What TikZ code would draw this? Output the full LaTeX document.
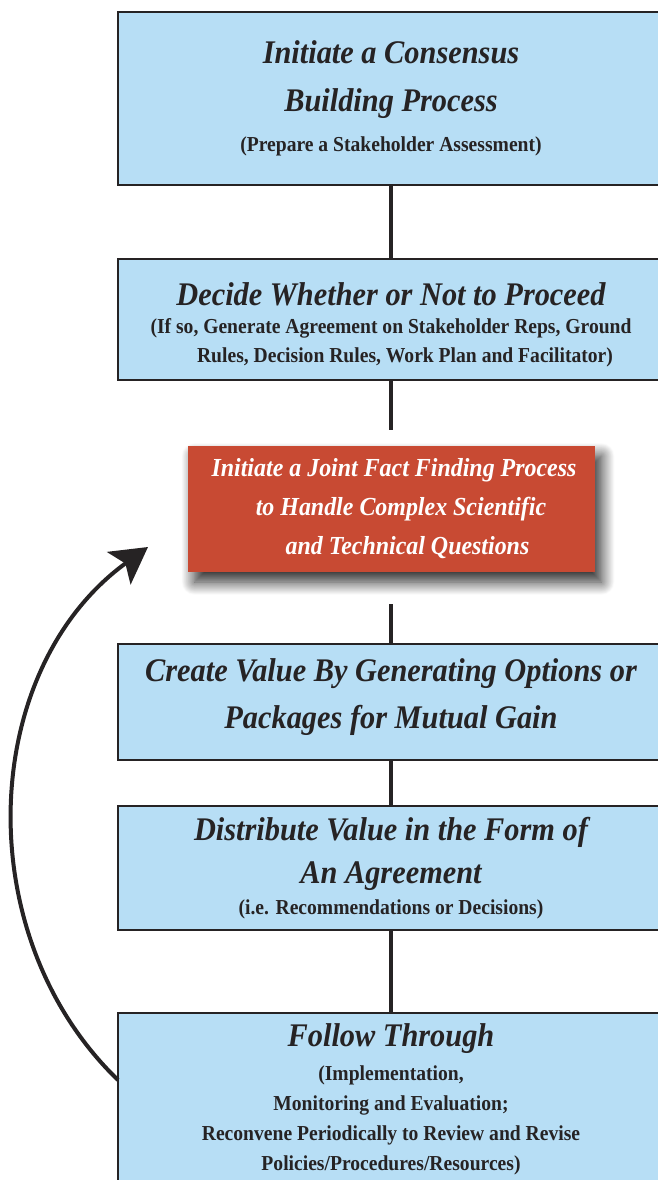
\documentclass[tikz,border=0pt]{standalone}
\usepackage{fontspec}
\newfontfamily\stepfont[FakeStretch=0.92]{Liberation Serif}
\usetikzlibrary{arrows.meta,shadows.blur}
\definecolor{boxblue}{RGB}{183,222,245}
\definecolor{factred}{RGB}{200,74,51}
\definecolor{inkgray}{RGB}{38,35,36}
\newcommand{\headline}{\fontsize{33}{40}\selectfont\bfseries\itshape}
\tikzset{
	stagebox/.style={draw=inkgray, line width=2pt, fill=boxblue, text=inkgray, minimum width=546pt, inner sep=0pt, align=center, font=\stepfont\bfseries\fontsize{21.3}{30}\selectfont},
	factbox/.style={fill=factred, text=white, minimum width=407pt, minimum height=126pt, inner sep=0pt, align=center, font=\stepfont\bfseries\itshape\fontsize{26}{39}\selectfont, blur shadow={shadow xshift=7pt, shadow yshift=-10pt, shadow blur radius=13pt, shadow blur steps=20, shadow opacity=85}},
	link/.style={draw=inkgray, line width=3.5pt},
	backarrow/.style={draw=inkgray, line width=4pt, -{Stealth[length=36pt,width=40pt,inset=8pt]}},
}

\begin{document}
\begin{tikzpicture}[x=1pt, y=1pt]
			%%%%% START %%%%%
			\clip (0, 0) rectangle (658, -1180);
			
			\node[stagebox, minimum height=173pt] (init) at (391, -98.5) {{\headline Initiate a Consensus}\\[18pt]{\headline Building Process}\\[10pt](Prepare a Stakeholder Assessment)};
			
			\node[stagebox, minimum height=121pt] (decide) at (391, -319.5) {{\headline\rule{0pt}{33pt}Decide Whether or Not to Proceed}\\[-2pt](If so, Generate Agreement on Stakeholder Reps, Ground\\[-1pt]\hspace*{28pt}Rules, Decision Rules, Work Plan and Facilitator)};
			
			\node[factbox] (jff) at (391, -509) {\hspace*{6pt}Initiate a Joint Fact Finding Process\\\hspace*{20pt}to Handle Complex Scientific\\\hspace*{33pt}and Technical Questions};
			
			\node[stagebox, minimum height=116pt] (create) at (391, -702) {{\headline Create Value By Generating Options or}\\[15pt]{\headline\rule[-17pt]{0pt}{0pt}Packages for Mutual Gain}};
			
			\node[stagebox, minimum height=124pt] (distr) at (391, -868) {{\headline Distribute Value in the Form of}\\[13pt]{\headline An Agreement}\\[1pt](i.e. Recommendations or Decisions)};
			
			\node[stagebox, minimum height=172pt, anchor=north] (follow) at (391, -1012) {{\headline Follow Through}\\[4pt](Implementation,\\Monitoring and Evaluation;\\Reconvene Periodically to Review and Revise\\Policies/Procedures/Resources)};
			
			\draw[link] (init) -- (decide);
			\draw[link, shorten >=16pt] (decide) -- (jff);
			\draw[link, shorten <=32pt] (jff) -- (create);
			\draw[link] (create) -- (distr);
			\draw[link] (distr) -- (follow);
			
			% feedback loop
			\coordinate (loopstart) at (118, -1080);
			\coordinate (looptip) at (148, -547);
			\draw[backarrow] (loopstart) to[out=136, in=216] (looptip);
			%%%%% END %%%%%
\end{tikzpicture}
\end{document}
